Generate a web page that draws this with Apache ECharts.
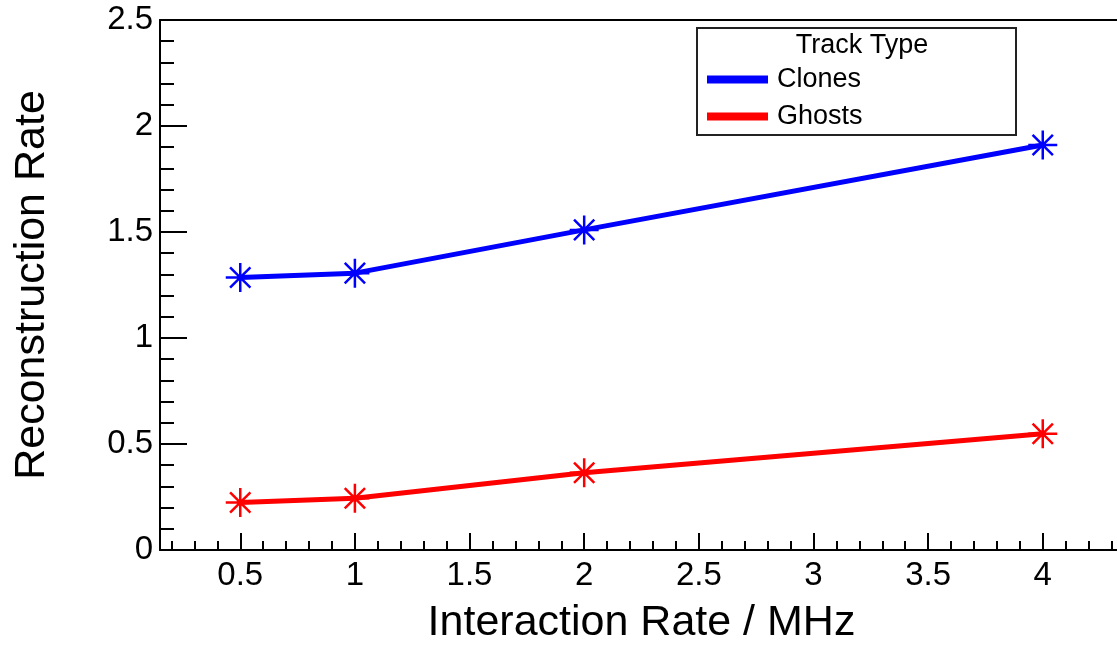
<!DOCTYPE html>
<html>
<head>
<meta charset="utf-8">
<script src="https://cdn.jsdelivr.net/npm/echarts@6/dist/echarts.min.js"></script>
<style>
  html, body { margin: 0; padding: 0; background: #fff; overflow: hidden; }
  /* the frame's right edge (x = 4.35) lies just past the visible window */
  #chart { width: 1140px; height: 646px; }
</style>
</head>
<body>
<div id="chart"></div>
<script>
// Interaction rate (MHz) at which each configuration was run
const interactionRate = [0.5, 1, 2, 4];
// Reconstruction rate per track type
const clones = [1.285, 1.306, 1.51, 1.91];
const ghosts = [0.224, 0.244, 0.364, 0.548];

const seriesNames = ['Clones', 'Ghosts'];
const legendTitle = 'Track Type';
const xTitle = 'Interaction Rate / MHz';
const yTitle = 'Reconstruction Rate';

// Axis ranges and tick positions
const xRange = [0.15, 4.35];
const yRange = [0, 2.5];
const xMajorTicks = [0.5, 1, 1.5, 2, 2.5, 3, 3.5, 4];
const xMinorTicks = [];
for (let i = 2; i <= 43; i++) {
  if (i % 5 !== 0) xMinorTicks.push(+(i / 10).toFixed(1));
}

const FONT = "'Liberation Sans', Arial, Helvetica, sans-serif";
// eight-armed asterisk marker
const STAR = 'path://M0,50L100,50M50,0L50,100M15,15L85,85M85,15L15,85';

const toPairs = (xs, ys) => xs.map((x, i) => [x, ys[i]]);

const chart = echarts.init(document.getElementById('chart'), null, { renderer: 'canvas' });

const lineSeries = (name, values, color) => ({
  name: name,
  type: 'line',
  data: toPairs(interactionRate, values),
  symbol: STAR,
  symbolSize: 29,
  symbolKeepAspect: true,
  showSymbol: true,
  lineStyle: { color: color, width: 5 },
  itemStyle: { color: color, borderColor: color, borderWidth: 2.5 },
  emphasis: { disabled: true },
  z: 3
});

chart.setOption({
  animation: false,
  backgroundColor: '#fff',
  textStyle: { fontFamily: FONT },
  grid: {
    left: 160, top: 20, width: 963, height: 530,
    outerBoundsMode: 'none',
    containLabel: false,
    show: false
  },
  xAxis: [
    {
      type: 'value', min: xRange[0], max: xRange[1],
      position: 'bottom',
      name: xTitle, nameLocation: 'middle', nameGap: 52,
      nameTextStyle: { fontSize: 43, color: '#000', fontFamily: FONT },
      axisLine: { show: true, lineStyle: { color: '#000', width: 2 } },
      axisTick: { show: true, inside: true, length: 17, customValues: xMajorTicks,
                  lineStyle: { color: '#000', width: 2 } },
      axisLabel: { show: true, customValues: xMajorTicks, margin: 9,
                   fontSize: 33, color: '#000', fontFamily: FONT },
      splitLine: { show: false }
    },
    {
      type: 'value', min: xRange[0], max: xRange[1],
      position: 'bottom', offset: 0, gridIndex: 0,
      axisLine: { show: false },
      axisTick: { show: true, inside: true, length: 9, customValues: xMinorTicks,
                  lineStyle: { color: '#000', width: 2 } },
      axisLabel: { show: false },
      splitLine: { show: false }
    },
    {
      // upper frame edge
      type: 'value', min: xRange[0], max: xRange[1],
      position: 'top', offset: 0, gridIndex: 0,
      axisLine: { show: true, lineStyle: { color: '#000', width: 2 } },
      axisTick: { show: false },
      axisLabel: { show: false },
      splitLine: { show: false }
    }
  ],
  yAxis: {
    type: 'value', min: yRange[0], max: yRange[1], interval: 0.5,
    name: yTitle, nameLocation: 'middle', nameGap: 106, nameRotate: 90,
    nameTextStyle: { fontSize: 43, color: '#000', fontFamily: FONT },
    axisLine: { show: true, lineStyle: { color: '#000', width: 2 } },
    axisTick: { show: true, inside: true, length: 27, lineStyle: { color: '#000', width: 2 } },
    minorTick: { show: true, splitNumber: 5, length: 14, lineStyle: { color: '#000', width: 2 } },
    axisLabel: { margin: 7, fontSize: 33, color: '#000', fontFamily: FONT },
    splitLine: { show: false }
  },
  legend: {
    orient: 'vertical',
    left: 707, top: 66,
    padding: 0,
    itemGap: 10,
    itemWidth: 59, itemHeight: 6,
    icon: 'rect',
    data: seriesNames,
    selectedMode: false,
    textStyle: { fontSize: 27, lineHeight: 27, color: '#000', fontFamily: FONT, padding: [0, 0, 0, 5] },
    z: 10
  },
  graphic: [
    {
      type: 'rect', z: 5,
      shape: { x: 697, y: 28, width: 319, height: 107 },
      style: { fill: '#fff', stroke: '#222', lineWidth: 2 }
    },
    {
      type: 'text', z: 11,
      x: 862, y: 46,
      style: { text: legendTitle, fontSize: 27, fontFamily: FONT, fill: '#000',
               align: 'center', verticalAlign: 'middle' }
    }
  ],
  series: [
    lineSeries(seriesNames[0], clones, '#0000ff'),
    lineSeries(seriesNames[1], ghosts, '#ff0000')
  ]
});
</script>
</body>
</html>
